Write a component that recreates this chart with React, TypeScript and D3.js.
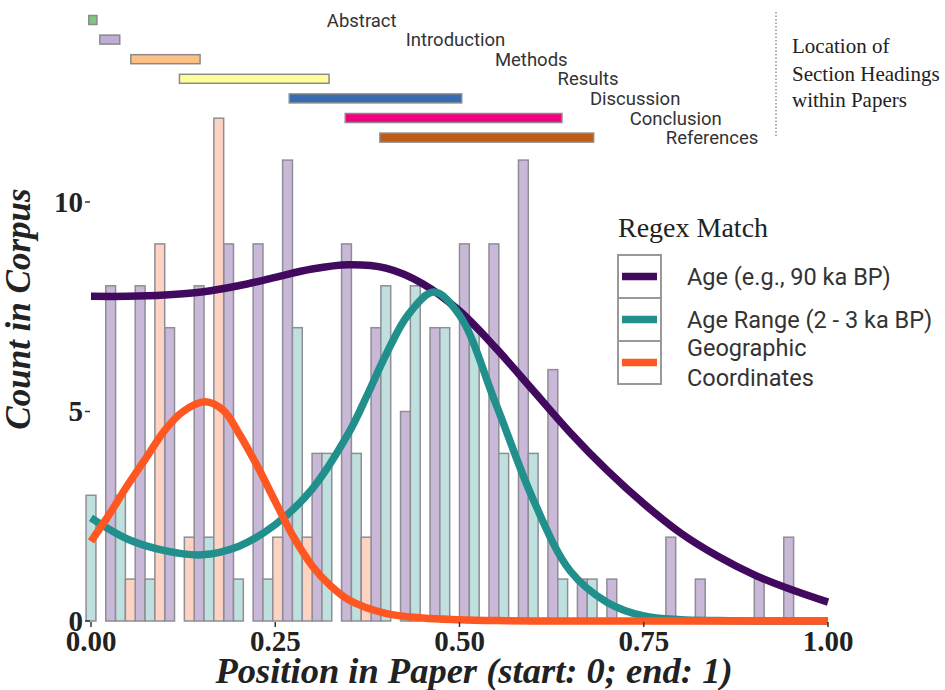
import React from "react"
import * as d3 from "d3"

// histogram bins (centre of each bin, position in paper)
const binCenters = [0, 0.04, 0.08, 0.12, 0.16, 0.2, 0.24, 0.28, 0.32, 0.36, 0.4, 0.44, 0.48, 0.52, 0.56, 0.6, 0.64, 0.68, 0.72, 0.76, 0.8, 0.84, 0.88, 0.92, 0.96, 1]
const ageCounts = [0, 8, 8, 7, 8, 9, 9, 11, 4, 9, 7, 5, 7, 9, 9, 11, 6, 1, 1, 0, 2, 1, 0, 1, 2, 0]
const rangeCounts = [3, 3, 1, 0, 2, 1, 1, 7, 4, 4, 8, 8, 7, 7, 4, 4, 1, 1, 0, 0, 0, 0, 0, 0, 0, 0]
const geoCounts = [0, 1, 9, 2, 12, 0, 2, 2, 0, 2, 0, 0, 0, 0, 0, 0, 0, 0, 0, 0, 0, 0, 0, 0, 0, 0]

// smoothed density curves
const ageCurveX = [0, 0.05, 0.1, 0.15, 0.2, 0.25, 0.3, 0.35, 0.4, 0.45, 0.5, 0.55, 0.6, 0.65, 0.7, 0.75, 0.8, 0.85, 0.9, 0.95, 1]
const ageCurveY = [7.75, 7.75, 7.78, 7.85, 8.0, 8.2, 8.4, 8.5, 8.42, 8.05, 7.4, 6.5, 5.5, 4.5, 3.6, 2.8, 2.1, 1.55, 1.1, 0.75, 0.45]
const rangeCurveX = [0, 0.05, 0.1, 0.15, 0.2, 0.25, 0.3, 0.35, 0.375, 0.4, 0.43, 0.465, 0.5, 0.55, 0.6, 0.65, 0.7, 0.75, 0.8, 0.85, 0.9, 1]
const rangeCurveY = [2.46, 1.95, 1.68, 1.58, 1.78, 2.3, 3.15, 4.5, 5.4, 6.35, 7.3, 7.85, 7.3, 5.15, 2.9, 1.2, 0.45, 0.12, 0.03, 0.01, 0, 0]
const geoCurveX = [0, 0.025, 0.05, 0.075, 0.1, 0.125, 0.155, 0.18, 0.2, 0.225, 0.25, 0.275, 0.3, 0.325, 0.35, 0.4, 0.45, 0.5, 0.55, 0.6, 0.7, 0.8, 0.9, 1]
const geoCurveY = [1.9, 2.55, 3.25, 3.9, 4.55, 5.0, 5.23, 5.02, 4.5, 3.72, 2.85, 2.0, 1.32, 0.84, 0.5, 0.18, 0.07, 0.03, 0.01, 0, 0, 0, 0, 0]

// section heading locations
const sectionNames = ["Abstract", "Introduction", "Methods", "Results", "Discussion", "Conclusion", "References"]
const sectionStart = [-0.003, 0.012, 0.054, 0.12, 0.269, 0.345, 0.392]
const sectionEnd = [0.008, 0.039, 0.148, 0.323, 0.503, 0.639, 0.682]

const seriesNames = ["Age (e.g., 90 ka BP)", "Age Range (2 - 3 ka BP)", "Geographic\nCoordinates"]
const xTicks = [0, 0.25, 0.5, 0.75, 1]
const yTicks = [0, 5, 10]

const lineColors = ["#420a5e", "#21908c", "#ff5722"]
const barFills = ["#cab8d8", "#bfe0de", "#fdd3c4"]
const serif = "'Liberation Serif', 'Times New Roman', serif"
const sans = "Roboto, 'Noto Sans', sans-serif"

export default function App() {
  const width = 945
  const height = 690

  const x = d3.scaleLinear().domain([0, 1]).range([91, 828])
  const y = d3.scaleLinear().domain([0, 10]).range([621, 202])

  const binW = 0.04
  const subW = binW / 3
  const counts = [ageCounts, rangeCounts, geoCounts]

  const line = d3.line<[number, number]>()
    .x(d => x(d[0]))
    .y(d => y(Math.max(0, d[1])))
    .curve(d3.curveCatmullRom.alpha(0.5))

  const curves = [
    d3.zip(ageCurveX, ageCurveY),
    d3.zip(rangeCurveX, rangeCurveY),
    d3.zip(geoCurveX, geoCurveY)
  ] as [number, number][][]

  const sectionY = d3.scalePoint().domain(sectionNames).range([20, 137.6])
  const sectionColors = d3.schemeAccent
  // label x, in data units of the position axis
  const labelX = [0.32, 0.427, 0.548, 0.633, 0.677, 0.731, 0.78]

  const legendX = 618
  const legendTop = 255
  const keySize = 43

  return (
    <svg width={width} height={height} style={{ position: "absolute", left: 0, top: 0, background: "#fff" }}>
      {/* bars */}
      <g>
        {counts.map((series, s) =>
          series.map((c, i) => c > 0 && (
            <rect
              key={`${s}-${i}`}
              x={x(binCenters[i] - binW / 2 + s * subW)}
              y={y(c)}
              width={x(subW) - x(0)}
              height={y(0) - y(c)}
              fill={barFills[s]}
              stroke="#8e8e94"
              strokeWidth={1.5}
            />
          ))
        )}
      </g>

      {/* density curves */}
      <g fill="none" strokeWidth={7.5}>
        {curves.map((pts, s) => (
          <path key={s} d={line(pts) || ""} stroke={lineColors[s]} />
        ))}
      </g>

      {/* y axis */}
      <g fontFamily={serif} fontWeight="bold" fontSize={29} fill="#222">
        {yTicks.map(t => (
          <g key={t}>
            <line x1={85} x2={90} y1={y(t)} y2={y(t)} stroke="#333" strokeWidth={1.5} />
            <text x={83} y={y(t)} dy="0.34em" textAnchor="end">{t}</text>
          </g>
        ))}
      </g>
      <text
        transform={`translate(30, 309) rotate(-90)`}
        textAnchor="middle"
        fontFamily={serif}
        fontWeight="bold"
        fontStyle="italic"
        fontSize={35}
        fill="#222"
      >Count in Corpus</text>

      {/* x axis */}
      <g fontFamily={serif} fontWeight="bold" fontSize={29} fill="#222">
        {xTicks.map(t => (
          <g key={t}>
            <line x1={x(t)} x2={x(t)} y1={622} y2={627} stroke="#333" strokeWidth={1.5} />
            <text x={x(t)} y={651} textAnchor="middle">{d3.format(".2f")(t)}</text>
          </g>
        ))}
      </g>
      <text
        x={474}
        y={683}
        textAnchor="middle"
        fontFamily={serif}
        fontWeight="bold"
        fontStyle="italic"
        fontSize={36.5}
        fill="#222"
      >Position in Paper (start: 0; end: 1)</text>

      {/* section heading locations */}
      <g>
        {sectionNames.map((name, i) => (
          <g key={name}>
            <rect
              x={x(sectionStart[i])}
              y={(sectionY(name) || 0) - 4.5}
              width={x(sectionEnd[i]) - x(sectionStart[i])}
              height={9}
              fill={sectionColors[i]}
              stroke="#8a8a8a"
              strokeWidth={1.5}
            />
            <text
              x={x(labelX[i])}
              y={(sectionY(name) || 0) + 6.5}
              fontFamily={sans}
              fontSize={18.5}
              fill="#333"
            >{name}</text>
          </g>
        ))}
      </g>
      <line x1={776} x2={776} y1={12} y2={137} stroke="#777" strokeWidth={1.2} strokeDasharray="1.5 2" />
      <g fontFamily={serif} fontSize={21} fill="#222">
        <text x={792} y={53}>Location of</text>
        <text x={792} y={81}>Section Headings</text>
        <text x={792} y={107}>within Papers</text>
      </g>

      {/* legend */}
      <text x={legendX} y={237} fontFamily={serif} fontSize={28} fill="#222">Regex Match</text>
      {seriesNames.map((name, s) => {
        const top = legendTop + s * keySize
        const lines = name.split("\n")
        const cy = top + keySize / 2
        return (
          <g key={name}>
            <rect x={legendX} y={top} width={keySize} height={keySize} fill="#fff" stroke="#999" strokeWidth={2} />
            <line x1={legendX + 4} x2={legendX + keySize - 4} y1={cy} y2={cy} stroke={lineColors[s]} strokeWidth={7.5} />
            {lines.map((l, j) => (
              <text
                key={j}
                x={687}
                y={cy + (j - (lines.length - 1) / 2) * 30}
                dy="0.35em"
                fontFamily={sans}
                fontSize={23.5}
                fill="#333"
              >{l}</text>
            ))}
          </g>
        )
      })}
    </svg>
  )
}
